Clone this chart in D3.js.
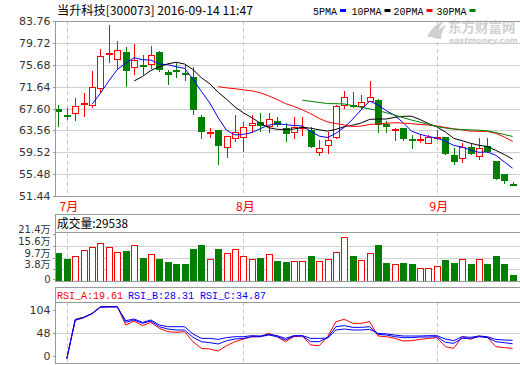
<!DOCTYPE html>
<html><head><meta charset="utf-8">
<script src="https://cdn.jsdelivr.net/npm/d3@7"></script>
<style>body{margin:0;background:#fff}svg{display:block}</style>
</head><body><svg id="c" width="520" height="365"></svg>
<script>
// ---------------- data ----------------
const dates = ["2016-06-30","2016-07-01","2016-07-04","2016-07-05","2016-07-06","2016-07-07","2016-07-08",
"2016-07-11","2016-07-12","2016-07-13","2016-07-14","2016-07-15","2016-07-18","2016-07-19","2016-07-20",
"2016-07-21","2016-07-22","2016-07-25","2016-07-26","2016-07-27","2016-07-28","2016-07-29",
"2016-08-01","2016-08-02","2016-08-03","2016-08-04","2016-08-05","2016-08-08","2016-08-09","2016-08-10",
"2016-08-11","2016-08-12","2016-08-15","2016-08-16","2016-08-17","2016-08-18","2016-08-19","2016-08-22",
"2016-08-23","2016-08-24","2016-08-25","2016-08-26","2016-08-29","2016-08-30","2016-08-31",
"2016-09-01","2016-09-02","2016-09-05","2016-09-06","2016-09-07","2016-09-08","2016-09-09",
"2016-09-12","2016-09-13","2016-09-14"];
const open  = [67.50,66.46,66.76,68.58,68.24,71.39,77.84,76.76,78.11,75.28,75.55,75.89,78.11,74.41,74.68,74.07,73.35,66.07,63.33,63.61,60.46,62.18,62.31,64.59,65.09,64.40,65.33,63.98,63.24,64.14,63.66,59.65,60.94,62.42,68.29,68.31,67.98,69.04,69.22,64.78,63.83,63.98,61.96,61.92,61.31,62.29,62.37,58.98,58.42,60.46,58.79,60.70,57.92,55.46,53.68];
const high  = [68.29,67.68,69.54,70.46,74.46,78.67,83.11,80.15,78.98,79.59,77.56,79.22,78.20,74.78,76.02,75.70,75.20,66.31,64.09,63.70,62.60,66.44,65.15,66.44,66.76,66.76,66.07,64.90,65.94,66.00,64.16,61.81,63.35,68.20,70.76,70.57,70.15,72.61,69.30,65.33,64.09,64.00,62.74,62.87,62.74,63.66,62.40,60.39,61.20,61.20,62.12,62.12,57.92,55.46,54.09];
const low   = [64.46,65.70,65.39,66.13,67.79,70.65,76.20,74.96,71.68,74.04,74.04,75.09,74.60,72.18,73.43,72.92,66.63,62.24,62.42,57.42,58.72,61.68,59.83,63.35,63.53,63.35,64.40,61.68,62.24,62.74,60.57,59.03,59.46,62.12,67.68,67.87,67.68,69.00,63.24,63.24,61.81,61.81,60.27,61.50,61.19,61.99,59.16,57.37,57.68,59.16,58.29,59.53,54.53,53.79,53.48];
const close = [67.13,66.44,68.11,68.63,71.63,77.31,77.87,78.48,74.65,76.57,75.52,77.50,74.91,73.98,74.65,74.04,67.55,63.53,63.35,60.94,62.50,63.24,64.16,64.96,64.59,65.65,64.72,63.16,64.16,64.17,60.76,60.27,61.81,68.11,69.78,68.29,68.79,69.78,64.78,64.28,63.86,62.12,61.94,61.95,62.31,62.32,59.35,57.98,60.46,59.46,60.27,59.77,54.83,54.40,53.66];
// volume, in 万 (10,000) lots, read against the axis grid
const volume = [12.15,9.15,10.5,13.5,15.0,17.0,15.0,12.5,13.15,16.0,9.65,11.5,9.0,7.65,6.5,6.5,14.0,16.0,9.0,14.0,12.0,14.0,10.5,9.0,9.65,11.5,8.15,7.5,8.0,8.0,10.5,8.0,9.0,12.5,19.85,10.5,8.5,12.0,16.0,7.0,6.5,7.0,6.5,4.5,4.5,5.5,8.5,7.0,9.0,6.5,9.0,6.5,10.5,6.5,1.0];
const rsiA = [null,0,75,79,86.5,99,99.5,99.5,64.1,71.7,62.9,69.2,57.8,51.4,50.2,51.4,32.3,19.6,18.3,14.5,24.7,32.3,37.4,41.8,41.8,48.2,41.8,32.3,41.8,43.1,25.9,24.7,41.8,70.5,75.0,67.3,67.3,70.5,43.1,41.8,38.6,33.6,34.2,36.7,38.6,40.0,22.8,19.6,41.8,36.7,43.1,40.6,22.8,20.9,19.61];
const rsiB = [null,0,74,78.5,86,98.5,99,99,69.2,73.7,67.3,71.7,60.9,56.5,54.6,54.6,40.6,32.3,30.4,27.9,34.2,37.4,38.6,41.8,41.8,45.0,41.8,35.5,43.1,43.1,32.3,32.3,40.0,60.9,62.9,59.6,59.6,60.9,46.3,45.0,41.8,40.0,40.0,41.2,41.2,41.8,31.1,29.2,38.6,38.6,41.8,40.0,32.3,30.4,28.31];
const rsiC = [null,0,73,78,85.5,98,98.5,98.5,72.4,75.5,69.2,73.7,64.1,60.9,60.9,60.9,47.0,38.6,38.6,36.7,40.0,41.8,41.8,43.8,43.1,46.3,43.8,38.6,43.8,43.8,38.6,38.6,39.0,54.6,56.5,54.6,54.6,55.8,48.2,47.0,45.0,43.1,43.1,43.1,43.8,43.8,37.4,34.2,41.8,40.6,43.1,41.8,36.7,35.5,34.87];
const priceTicks = [83.76,79.72,75.68,71.64,67.60,63.56,59.52,55.48,51.44];
const volTicks = [21.4,15.6,9.7,3.8,0];
const volTickLabels = ["21.4万","15.6万","9.7万","3.8万","0"];
const rsiTicks = [104,48,0];
const maPeriods = [5,10,20,30];
const maNames = ["5PMA","10PMA","20PMA","30PMA"];
const maColors = ["#0000ff","#000000","#ff0000","#008000"];
const monthStarts = ["2016-07-01","2016-08-01","2016-09-01"];
const monthLabels = ["7月","8月","9月"];
const titleText = "当升科技[300073] 2016-09-14 11:47";
const volTitle = "成交量:29538";
const rsiLabels = ["RSI_A:19.61","RSI_B:28.31","RSI_C:34.87"];
const rsiColors = ["#ff0000","#0000ff","#0000ff"];

// ---------------- layout ----------------
const L = 55, R = 520;
const main = {top:21, bottom:196};
const vol = {top:213.5, head:232, bottom:281};
const rsi = {top:287, head:302, bottom:363};
const RED = "#ff0000", GREEN = "#008000", GRID = "#d0d0d0", FRAME = "#999";

const svg = d3.select("#c");
const x = d3.scalePoint().domain(dates).range([58.4, 512.6]);
const yP = d3.scaleLinear().domain([51.44, 83.76]).range([main.bottom, main.top]);
const yV = d3.scaleLinear().domain([0, 21.4]).range([277, 234.2]);
const yR = d3.scaleLinear().domain([0, 100]).range([358.6, 306.2]);
const cx = d => Math.round(x(d)) + 0.5;

const font = "'DejaVu Sans', Verdana, sans-serif";
const cjk = "'Noto Sans CJK SC', 'DejaVu Sans', sans-serif";
const mono = "'Liberation Mono', 'DejaVu Sans Mono', monospace";

// ---------------- title & legend ----------------
svg.append("text").attr("x", 57).attr("y", 14.5).attr("font-family", cjk).attr("font-size", 12)
  .attr("fill", "#000").attr("textLength", 196).attr("lengthAdjust", "spacingAndGlyphs").text(titleText);
const legX = [313, 351.5, 393.5, 436.5];
maNames.forEach((n, i) => {
  const w = n.length * 6;
  svg.append("text").attr("x", legX[i]).attr("y", 14.5).attr("font-family", mono).attr("font-size", 11)
    .attr("textLength", w).attr("lengthAdjust", "spacingAndGlyphs").attr("fill", "#000").text(n);
  svg.append("rect").attr("x", legX[i] + w + 3).attr("y", 9).attr("width", 6).attr("height", 3).attr("fill", maColors[i]);
});

// ---------------- watermark ----------------
const wm = svg.append("g").attr("fill", "#cfcfcf");
wm.append("path").attr("d", "M427,37 C430,30 436,24 444,21 C440,26 437,31 436,37 Z M433,38 C437,31 441,27 446,25 C443,30 441,34 441,39 Z");
wm.append("text").attr("x", 448).attr("y", 32).attr("font-family", cjk).attr("font-weight", "bold")
  .attr("font-size", 13.5).text("东方财富网");
wm.append("text").attr("x", 449).attr("y", 43).attr("font-family", font).attr("font-weight", "bold")
  .attr("font-style", "italic").attr("font-size", 7.8).text("eastmoney.com");

// ---------------- grid ----------------
const g = svg.append("g").attr("shape-rendering", "crispEdges");
g.selectAll(".pg").data(priceTicks.slice(1, -1)).join("line")
  .attr("x1", L).attr("x2", R).attr("y1", d => Math.round(yP(d)) + 0.5).attr("y2", d => Math.round(yP(d)) + 0.5)
  .attr("stroke", GRID);
g.selectAll(".vg").data(volTicks.slice(1, -1)).join("line")
  .attr("x1", L).attr("x2", R).attr("y1", d => Math.round(yV(d)) + 0.5).attr("y2", d => Math.round(yV(d)) + 0.5)
  .attr("stroke", GRID);
g.append("line").attr("x1", L).attr("x2", R).attr("y1", Math.round(yR(48)) + 0.5).attr("y2", Math.round(yR(48)) + 0.5).attr("stroke", GRID);

// month dashed lines
monthStarts.forEach(d => {
  [[main.top, main.bottom], [vol.head, vol.bottom], [rsi.head, rsi.bottom]].forEach(([a, b]) => {
    g.append("line").attr("x1", cx(d)).attr("x2", cx(d)).attr("y1", a).attr("y2", b)
      .attr("stroke", "#c8c8c8").attr("stroke-dasharray", "4,3");
  });
});
monthStarts.forEach((d, i) => {
  svg.append("text").attr("x", x(d) + 2).attr("y", 210.5).attr("text-anchor", "middle")
    .attr("font-family", cjk).attr("font-size", 12).attr("fill", RED).text(monthLabels[i]);
});

// ---------------- candles ----------------
const cg = svg.append("g").attr("shape-rendering", "crispEdges");
dates.forEach((d, i) => {
  const up = close[i] >= open[i];
  const col = up ? RED : GREEN;
  const X = cx(d);
  const yT = Math.round(yP(Math.max(open[i], close[i])));
  const yB = Math.round(yP(Math.min(open[i], close[i])));
  const yH = Math.round(yP(high[i])), yL = Math.round(yP(low[i]));
  if (yB - yT < 2) {
    cg.append("line").attr("x1", X).attr("x2", X).attr("y1", yH).attr("y2", yL + 1).attr("stroke", col);
    cg.append("line").attr("x1", X - 3.5).attr("x2", X + 3.5).attr("y1", yT + 0.5).attr("y2", yT + 0.5).attr("stroke", col).attr("stroke-width", 2);
  } else if (up) {
    cg.append("line").attr("x1", X).attr("x2", X).attr("y1", yH).attr("y2", yT).attr("stroke", col);
    cg.append("line").attr("x1", X).attr("x2", X).attr("y1", yB).attr("y2", yL + 1).attr("stroke", col);
    cg.append("rect").attr("x", X - 3).attr("y", yT + 0.5).attr("width", 6).attr("height", yB - yT)
      .attr("fill", "#fff").attr("stroke", col);
  } else {
    cg.append("line").attr("x1", X).attr("x2", X).attr("y1", yH).attr("y2", yL + 1).attr("stroke", col);
    cg.append("rect").attr("x", X - 3.5).attr("y", yT).attr("width", 7).attr("height", yB - yT + 1).attr("fill", col);
  }
});

// ---------------- moving averages ----------------
const maLine = d3.line().defined(d => d[1] != null).x(d => x(d[0])).y(d => yP(d[1]));
maPeriods.forEach((n, k) => {
  const vals = close.map((c, i) => i < n - 1 ? null : d3.mean(close.slice(i - n + 1, i + 1)));
  svg.append("path").datum(dates.map((d, i) => [d, vals[i]])).attr("d", maLine)
    .attr("fill", "none").attr("stroke", maColors[k]).attr("stroke-width", 1);
});

// ---------------- volume ----------------
const vg = svg.append("g").attr("shape-rendering", "crispEdges");
dates.forEach((d, i) => {
  const up = close[i] >= open[i];
  const X = cx(d);
  const yt = Math.round(yV(volume[i]));
  if (up) {
    vg.append("rect").attr("x", X - 3).attr("y", yt + 0.5).attr("width", 6).attr("height", vol.bottom - yt)
      .attr("fill", "#fff").attr("stroke", RED);
  } else {
    vg.append("rect").attr("x", X - 3.5).attr("y", yt).attr("width", 7).attr("height", vol.bottom - yt).attr("fill", GREEN);
  }
});

// ---------------- RSI ----------------
const rLine = d3.line().defined(d => d[1] != null).x(d => x(d[0])).y(d => yR(d[1]));
[rsiA, rsiB, rsiC].forEach((arr, k) => {
  svg.append("path").datum(dates.map((d, i) => [d, arr[i]])).attr("d", rLine)
    .attr("fill", "none").attr("stroke", rsiColors[k]).attr("stroke-width", 1);
});

// ---------------- frames ----------------
const fg = svg.append("g").attr("shape-rendering", "crispEdges").attr("fill", "none").attr("stroke", FRAME);
[[main.top, main.bottom], [vol.top, vol.bottom], [rsi.top, rsi.bottom]].forEach(([a, b]) => {
  fg.append("line").attr("x1", L).attr("x2", R).attr("y1", a + 0.5).attr("y2", a + 0.5);
  fg.append("line").attr("x1", L).attr("x2", R).attr("y1", b + 0.5).attr("y2", b + 0.5);
  fg.append("line").attr("x1", L + 0.5).attr("x2", L + 0.5).attr("y1", a).attr("y2", b + 1);
});
fg.append("line").attr("x1", L).attr("x2", R).attr("y1", vol.head + 0.5).attr("y2", vol.head + 0.5);
fg.append("line").attr("x1", L).attr("x2", R).attr("y1", rsi.head + 0.5).attr("y2", rsi.head + 0.5);

// ---------------- axes ----------------
function leftAxis(scale, ticks, fmt, place, size) {
  const ax = svg.append("g").attr("transform", `translate(${L + 0.5},0)`)
    .call(d3.axisLeft(scale).tickValues(ticks).tickSize(3).tickPadding(2).tickFormat(fmt));
  ax.select(".domain").remove();
  ax.selectAll("line").attr("stroke", FRAME).attr("shape-rendering", "crispEdges");
  ax.selectAll("text").attr("font-family", font).attr("font-size", size || 11).attr("fill", "#333");
  if (place) ax.selectAll(".tick").attr("transform", d => `translate(0,${place(d)})`);
  return ax;
}
leftAxis(yP, priceTicks, d => d.toFixed(2));
// volume labels sit just above their grid lines; "0" sits at the panel bottom
const vAx = leftAxis(yV, volTicks, (d, i) => volTickLabels[i], d => d === 0 ? vol.bottom - 1.5 : Math.round(yV(d)) - 4, 10);
vAx.selectAll("text").attr("font-family", "'DejaVu Sans', 'Noto Sans CJK SC', sans-serif");
vAx.selectAll("line").attr("transform", d => `translate(0,${d === 0 ? 0 : 4})`);
leftAxis(yR, rsiTicks, d => d, d => Math.max(rsi.head + 8, Math.min(rsi.bottom - 7, yR(d))));

// ---------------- panel headers ----------------
svg.append("text").attr("x", 57).attr("y", 227.5).attr("font-family", cjk).attr("font-size", 12)
  .attr("fill", "#000").attr("textLength", 71).attr("lengthAdjust", "spacingAndGlyphs").text(volTitle);
const rsiX = [57, 128, 200];
rsiLabels.forEach((t, i) => {
  svg.append("text").attr("x", rsiX[i]).attr("y", 298.5).attr("font-family", mono).attr("font-size", 11)
    .attr("fill", rsiColors[i]).attr("textLength", 66).attr("lengthAdjust", "spacingAndGlyphs").text(t);
});
</script></body></html>
